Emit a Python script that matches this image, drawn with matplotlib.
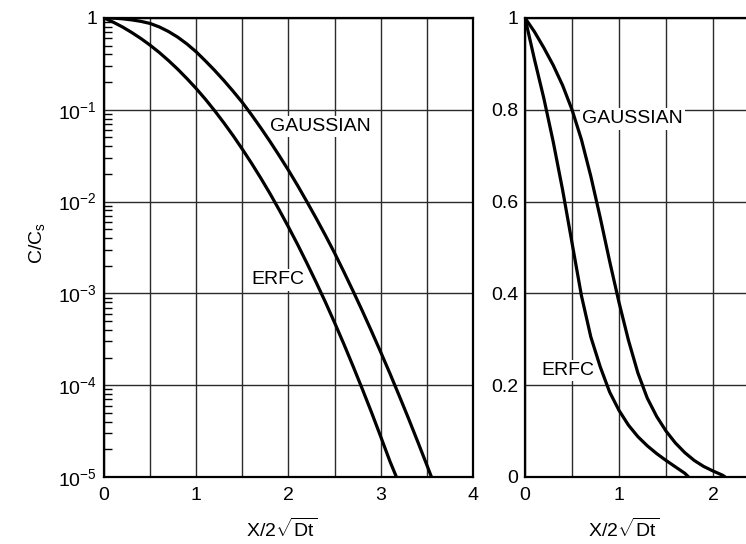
import matplotlib.pyplot as plt
from matplotlib.ticker import FixedLocator, MultipleLocator, LogLocator, NullFormatter

# concentration profiles (log and linear scale)
u_erfc_log = [0.0, 0.1, 0.2, 0.3, 0.4, 0.5, 0.6, 0.7, 0.8, 0.9, 1.0, 1.1, 1.2, 1.3,
              1.4, 1.5, 1.6, 1.7, 1.8, 1.9, 2.0, 2.1, 2.2, 2.3, 2.4, 2.5, 2.6, 2.7,
              2.8, 2.9, 3.0, 3.1, 3.17]
c_erfc_log = [1.0, 0.900, 0.798, 0.695, 0.597, 0.505, 0.420, 0.343, 0.276, 0.218,
              0.170, 0.130, 0.0975, 0.0719, 0.0522, 0.0372, 0.0261, 0.0180, 0.0122,
              0.00809, 0.00528, 0.00339, 0.00213, 0.00132, 8.04e-4, 4.79e-4, 2.81e-4,
              1.61e-4, 9.1e-5, 5.06e-5, 2.75e-5, 1.48e-5, 1.0e-5]

u_gauss_log = [0.0, 0.1, 0.2, 0.3, 0.4, 0.5, 0.6, 0.7, 0.8, 0.9, 1.0, 1.1, 1.2, 1.3,
               1.4, 1.5, 1.6, 1.7, 1.8, 1.9, 2.0, 2.1, 2.2, 2.3, 2.4, 2.5, 2.6, 2.7,
               2.8, 2.9, 3.0, 3.1, 3.2, 3.3, 3.4, 3.5, 3.55]
c_gauss_log = [1.0, 0.995, 0.979, 0.953, 0.918, 0.871, 0.798, 0.711, 0.617, 0.520,
               0.427, 0.340, 0.268, 0.208, 0.159, 0.120, 0.0879, 0.0634, 0.0451,
               0.0316, 0.0219, 0.0149, 0.00995, 0.00658, 0.00429, 0.00275, 0.00172,
               0.00106, 6.46e-4, 3.87e-4, 2.29e-4, 1.34e-4, 7.69e-5, 4.37e-5,
               2.44e-5, 1.35e-5, 1.0e-5]

u_erfc_lin = [0.0, 0.1, 0.2, 0.3, 0.4, 0.5, 0.6, 0.7, 0.8, 0.9, 1.0, 1.1, 1.2, 1.3,
              1.4, 1.5, 1.6, 1.7, 1.74]
c_erfc_lin = [1.0, 0.91, 0.825, 0.73, 0.625, 0.51, 0.395, 0.305, 0.24, 0.185, 0.145,
              0.113, 0.088, 0.068, 0.051, 0.036, 0.022, 0.008, 0.0]

u_gauss_lin = [0.0, 0.1, 0.2, 0.3, 0.4, 0.5, 0.6, 0.7, 0.8, 0.9, 1.0, 1.1, 1.2, 1.3,
               1.4, 1.5, 1.6, 1.7, 1.8, 1.9, 2.0, 2.1, 2.13]
c_gauss_lin = [1.0, 0.97, 0.935, 0.897, 0.853, 0.80, 0.735, 0.655, 0.565, 0.47, 0.38,
               0.298, 0.227, 0.172, 0.132, 0.10, 0.074, 0.053, 0.036, 0.023, 0.013,
               0.004, 0.0]

log_ticks = [1e-5, 1e-4, 1e-3, 1e-2, 1e-1, 1]
log_tick_labels = ['10$^{-5}$', '10$^{-4}$', '10$^{-3}$', '10$^{-2}$', '10$^{-1}$', '1']
lin_ticks = [0, 0.2, 0.4, 0.6, 0.8, 1]
lin_tick_labels = ['0', '0.2', '0.4', '0.6', '0.8', '1']
x_ticks_left = [0, 1, 2, 3, 4]
x_ticks_right = [0, 1, 2]

plt.rcParams['font.family'] = ['Liberation Sans', 'DejaVu Sans']
plt.rcParams['mathtext.fontset'] = 'custom'
plt.rcParams['mathtext.rm'] = 'Liberation Sans'
plt.rcParams['mathtext.it'] = 'Liberation Sans'
plt.rcParams['font.size'] = 14

fig = plt.figure(figsize=(7.46, 5.44), dpi=100)
ax1 = fig.add_axes([0.1394, 0.1232, 0.4946, 0.8438])
ax2 = fig.add_axes([0.7038, 0.1232, 0.3150, 0.8438])

grid_kw = dict(color='#2a2a2a', linewidth=1.0)
line_kw = dict(color='black', linewidth=2.3, solid_capstyle='butt', zorder=4)
box = dict(facecolor='white', edgecolor='none', pad=1.5)

# left: log scale
ax1.plot(u_gauss_log, c_gauss_log, **line_kw)
ax1.plot(u_erfc_log, c_erfc_log, **line_kw)
ax1.set_yscale('log')
ax1.set_xlim(0, 4)
ax1.set_ylim(1e-5, 1)
ax1.xaxis.set_major_locator(FixedLocator(x_ticks_left))
ax1.set_xticklabels([str(t) for t in x_ticks_left])
ax1.xaxis.set_minor_locator(MultipleLocator(0.5))
ax1.yaxis.set_major_locator(FixedLocator(log_ticks))
ax1.set_yticklabels(log_tick_labels)
ax1.yaxis.set_minor_locator(LogLocator(base=10, subs=range(2, 10)))
ax1.yaxis.set_minor_formatter(NullFormatter())
ax1.grid(True, which='major', axis='y', **grid_kw)
ax1.grid(True, which='both', axis='x', **grid_kw)
ax1.tick_params(axis='y', which='major', length=0, pad=5, labelsize=14)
ax1.tick_params(axis='x', which='major', length=0, pad=7, labelsize=14)
ax1.tick_params(axis='x', which='minor', length=0)
ax1.tick_params(axis='y', which='minor', direction='in', length=6, width=1.0)
ax1.text(1.80, 0.0655, 'GAUSSIAN', ha='left', va='center', bbox=box, zorder=3)
ax1.text(1.60, 1.4e-3, 'ERFC', ha='left', va='center', bbox=box, zorder=3)
ax1.set_ylabel('C/C$_{\\mathregular{s}}$', fontsize=14)
ax1.yaxis.set_label_coords(-0.155, 0.51)
ax1.set_xlabel('X/2$\\sqrt{\\mathregular{Dt}}$', fontsize=14)
ax1.xaxis.set_label_coords(0.482, -0.088)

# right: linear scale
ax2.plot(u_gauss_lin, c_gauss_lin, **line_kw)
ax2.plot(u_erfc_lin, c_erfc_lin, **line_kw)
ax2.set_xlim(0, 2.5)
ax2.set_ylim(0, 1)
ax2.xaxis.set_major_locator(FixedLocator(x_ticks_right))
ax2.set_xticklabels([str(t) for t in x_ticks_right])
ax2.xaxis.set_minor_locator(MultipleLocator(0.5))
ax2.yaxis.set_major_locator(FixedLocator(lin_ticks))
ax2.set_yticklabels(lin_tick_labels)
ax2.grid(True, which='both', **grid_kw)
ax2.tick_params(axis='both', which='both', length=0)
ax2.tick_params(axis='y', which='major', pad=5, labelsize=14)
ax2.tick_params(axis='x', which='major', pad=7, labelsize=14)
ax2.text(0.61, 0.78, 'GAUSSIAN', ha='left', va='center', bbox=box, zorder=3)
ax2.text(0.17, 0.232, 'ERFC', ha='left', va='center', bbox=box, zorder=3)
ax2.set_xlabel('X/2$\\sqrt{\\mathregular{Dt}}$', fontsize=14)
ax2.xaxis.set_label_coords(0.42, -0.088)

for ax in (ax1, ax2):
    for sp in ax.spines.values():
        sp.set_linewidth(1.6)
    ax.set_axisbelow(True)

fig.savefig('out.png', dpi=100, facecolor='white')
